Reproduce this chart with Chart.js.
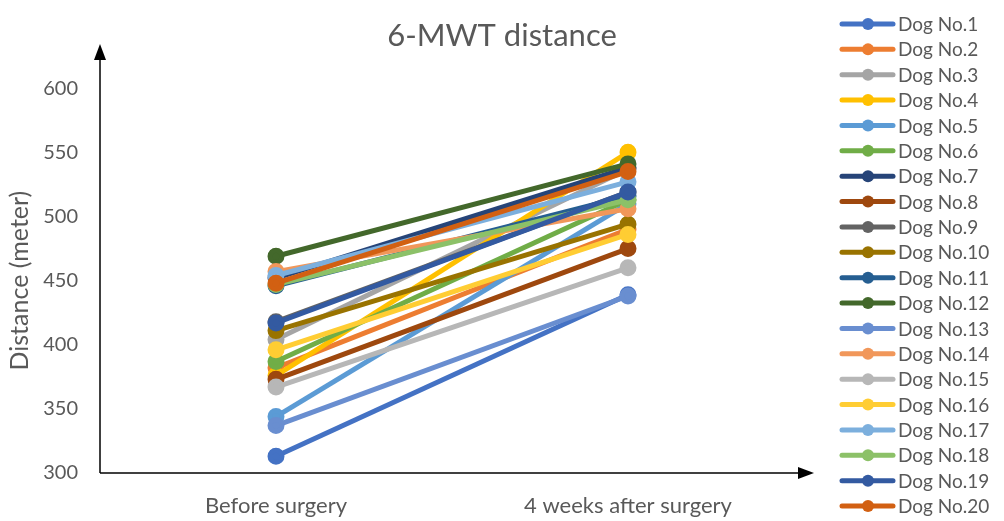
<!DOCTYPE html>
<html>
<head>
<meta charset="utf-8">
<script src="https://cdn.jsdelivr.net/npm/chart.js@4/dist/chart.umd.min.js"></script>
<style>
  html, body { margin: 0; padding: 0; background: #fff; }
  #wrap { width: 1004px; height: 521px; }
</style>
</head>
<body>
<div id="wrap"><canvas id="c" width="1004" height="521"></canvas></div>
<script>
// Time points on the x axis
const categories = ['Before surgery', '4 weeks after surgery'];

// Six-minute walk test distance (m) per dog
const dogNames = ['Dog No.1','Dog No.2','Dog No.3','Dog No.4','Dog No.5','Dog No.6','Dog No.7','Dog No.8','Dog No.9','Dog No.10',
                  'Dog No.11','Dog No.12','Dog No.13','Dog No.14','Dog No.15','Dog No.16','Dog No.17','Dog No.18','Dog No.19','Dog No.20'];
const beforeSurgery = [313, 382, 404, 376, 344, 387, 452, 373, 418, 411, 446, 469, 337, 457, 367, 396, 454, 447, 417, 448];
const afterSurgery  = [439, 490, 537, 550, 510, 513, 538, 475, 519, 494, 516, 541, 438, 506, 460, 486, 527, 513, 519, 535];

// Y axis tick values
const yTicks = [300, 350, 400, 450, 500, 550, 600];

const palette = ['#4472C4','#ED7D31','#A5A5A5','#FFC000','#5B9BD5','#70AD47','#264478','#9E480E','#636363','#997300',
                 '#255E91','#43682B','#698ED0','#F1975A','#B7B7B7','#FFCD33','#7CAFDD','#8CC168','#335AA1','#D26012'];

const FONT = 'Lato, "Open Sans", "Liberation Sans", sans-serif';
const TEXT = '#595959';

const datasets = dogNames.map((name, i) => ({
  label: name,
  data: [beforeSurgery[i], afterSurgery[i]],
  borderColor: palette[i],
  backgroundColor: palette[i],
  pointBackgroundColor: palette[i],
  pointBorderColor: palette[i],
  borderWidth: 5,
  pointRadius: 6,
  pointHoverRadius: 6,
  tension: 0,
  yAxisID: 'y',
  order: dogNames.length - i   // later dogs drawn on top
}));

// Axis lines with arrowheads
const arrowAxes = {
  id: 'arrowAxes',
  afterDraw(chart) {
    const { ctx, chartArea: a } = chart;
    const y0 = chart.scales.y.getPixelForValue(300);
    ctx.save();
    ctx.strokeStyle = '#000';
    ctx.fillStyle = '#000';
    ctx.lineWidth = 1.5;
    // vertical axis
    ctx.beginPath();
    ctx.moveTo(a.left, y0);
    ctx.lineTo(a.left, 56);
    ctx.stroke();
    ctx.beginPath();
    ctx.moveTo(a.left, 44);
    ctx.lineTo(a.left - 6, 60);
    ctx.lineTo(a.left + 6, 60);
    ctx.closePath();
    ctx.fill();
    // horizontal axis
    ctx.beginPath();
    ctx.moveTo(a.left, y0);
    ctx.lineTo(a.right - 2, y0);
    ctx.stroke();
    ctx.beginPath();
    ctx.moveTo(a.right + 10, y0);
    ctx.lineTo(a.right - 6, y0 - 6);
    ctx.lineTo(a.right - 6, y0 + 6);
    ctx.closePath();
    ctx.fill();
    ctx.restore();
  }
};

// Legend on the right: line + marker + name
const sideLegend = {
  id: 'sideLegend',
  afterDraw(chart) {
    const { ctx } = chart;
    ctx.save();
    chart.data.datasets.forEach((ds, i) => {
      const y = 24 + i * 25.37;
      ctx.strokeStyle = ds.borderColor;
      ctx.fillStyle = ds.borderColor;
      ctx.lineWidth = 5;
      ctx.lineCap = 'round';
      ctx.beginPath();
      ctx.moveTo(842, y);
      ctx.lineTo(893, y);
      ctx.stroke();
      ctx.beginPath();
      ctx.arc(868, y, 6, 0, Math.PI * 2);
      ctx.fill();
      ctx.fillStyle = TEXT;
      ctx.font = '19px ' + FONT;
      ctx.textBaseline = 'middle';
      ctx.textAlign = 'left';
      ctx.fillText(ds.label, 898, y + 1);
    });
    ctx.restore();
  }
};

new Chart(document.getElementById('c'), {
  type: 'line',
  data: { labels: categories, datasets },
  plugins: [arrowAxes, sideLegend],
  options: {
    responsive: false,
    animation: false,
    events: [],
    layout: { padding: 0 },
    plugins: {
      legend: { display: false },
      tooltip: { enabled: false },
      title: {
        display: true,
        text: '6-MWT distance',
        color: TEXT,
        font: { family: FONT, size: 31, weight: 'normal', lineHeight: 1.2 },
        padding: { top: 17, bottom: 34 }
      }
    },
    scales: {
      x: {
        type: 'category',
        offset: true,
        grid: { display: false, drawTicks: false },
        border: { display: false },
        ticks: { color: TEXT, font: { family: FONT, size: 22 }, padding: 20 },
        afterFit(s) { s.height = 48; }
      },
      y: {
        min: 300,
        max: 600,
        afterBuildTicks(s) { s.ticks = yTicks.map(v => ({ value: v })); },
        grid: { display: false, drawTicks: false },
        border: { display: false },
        ticks: { color: TEXT, font: { family: FONT, size: 20 }, padding: 22 },
        title: {
          display: true,
          text: 'Distance (meter)',
          color: TEXT,
          font: { family: FONT, size: 25 },
          padding: { top: 5, bottom: 0 }
        },
        afterFit(s) { s.width = 100; }
      },
      // empty right-hand box that reserves room for the legend
      legendSpace: {
        type: 'linear',
        position: 'right',
        display: true,
        min: 0,
        max: 1,
        grid: { display: false, drawTicks: false },
        border: { display: false },
        ticks: { display: false },
        afterFit(s) { s.width = 200; }
      }
    }
  }
});
</script>
</body>
</html>
